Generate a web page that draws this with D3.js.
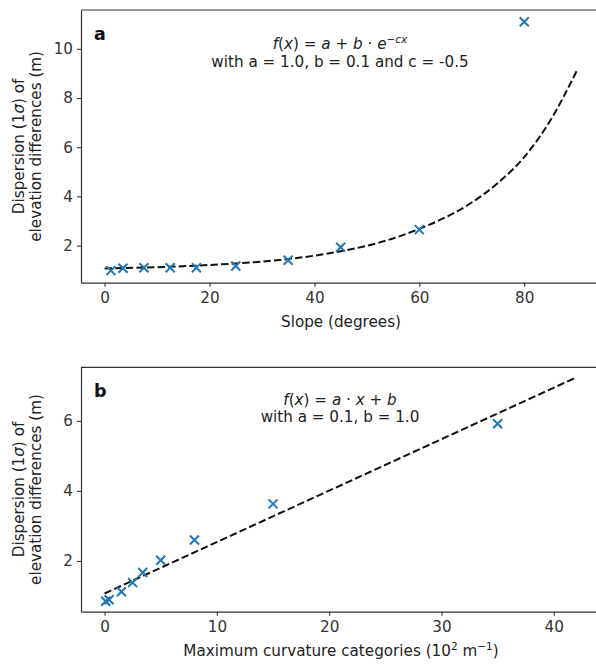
<!DOCTYPE html>
<html>
<head>
<meta charset="utf-8">
<script src="https://cdn.jsdelivr.net/npm/d3@7"></script>
<style>
  body { margin: 0; background: #fff; }
  svg { display: block; font-family: "DejaVu Sans", sans-serif; }
</style>
</head>
<body>
<svg id="chart" width="596" height="664"></svg>
<script>
// ---------- Panel a data ----------
const slopeX = [1.2, 3.5, 7.5, 12.5, 17.5, 25, 35, 45, 60, 80];
const slopeY = [0.98, 1.08, 1.1, 1.1, 1.1, 1.17, 1.4, 1.93, 2.65, 11.1];
const slopeFitX = [0, 10, 20, 30, 40, 45, 50, 55, 60, 65, 70, 75, 80, 85, 90];
const slopeFitY = [1.07, 1.12, 1.21, 1.35, 1.59, 1.77, 1.99, 2.29, 2.68, 3.15, 3.75, 4.55, 5.6, 7.1, 9.1];
const slopeXTicks = [0, 20, 40, 60, 80];
const slopeYTicks = [2, 4, 6, 8, 10];

// ---------- Panel b data ----------
const curvX = [0.1, 0.4, 1.5, 2.5, 3.4, 5, 8, 15, 35];
const curvY = [0.85, 0.89, 1.12, 1.38, 1.67, 2.02, 2.6, 3.63, 5.92];
const curvFitX = [0, 42];
const curvFitY = [1.07, 7.24];
const curvXTicks = [0, 10, 20, 30, 40];
const curvYTicks = [2, 4, 6];

const svg = d3.select("#chart");
const axisColor = "#333";
const textColor = "#222";
const blue = "#1f77b4";
const FS = "15.2px";

function panel(opts) {
  const { xDomain, xRange, yDomain, yRange, xTicks, yTicks, px, py, fx, fy,
          letter, formulaLines, xLabel } = opts;
  const x = d3.scaleLinear().domain(xDomain).range(xRange);
  const y = d3.scaleLinear().domain(yDomain).range(yRange);
  const g = svg.append("g");

  // spines (top and right; right lies beyond the picture edge)
  g.append("line").attr("x1", xRange[0]).attr("x2", xRange[1])
    .attr("y1", yRange[1]).attr("y2", yRange[1])
    .attr("stroke", axisColor).attr("stroke-width", 1.2);
  g.append("line").attr("x1", xRange[1]).attr("x2", xRange[1])
    .attr("y1", yRange[0]).attr("y2", yRange[1])
    .attr("stroke", axisColor).attr("stroke-width", 1.2);

  const xAxis = g.append("g").attr("transform", `translate(0,${yRange[0]})`)
    .call(d3.axisBottom(x).tickValues(xTicks).tickSize(4).tickSizeOuter(0).tickPadding(6).tickFormat(d3.format("d")));
  const yAxis = g.append("g").attr("transform", `translate(${xRange[0]},0)`)
    .call(d3.axisLeft(y).tickValues(yTicks).tickSize(4).tickSizeOuter(0).tickPadding(4).tickFormat(d3.format("d")));
  [xAxis, yAxis].forEach(a => {
    a.select(".domain").attr("stroke", axisColor).attr("stroke-width", 1.2);
    a.selectAll(".tick line").attr("stroke", axisColor).attr("stroke-width", 1.1);
    a.selectAll(".tick text").attr("fill", axisColor)
      .style("font-size", FS).style("font-family", "DejaVu Sans, sans-serif");
  });

  // fit line
  const line = d3.line().x((d, i) => x(fx[i])).y((d, i) => y(fy[i])).curve(d3.curveMonotoneX);
  g.append("path").datum(fx).attr("d", line)
    .attr("fill", "none").attr("stroke", "#111").attr("stroke-width", 2)
    .attr("stroke-dasharray", "7.4,3.2");

  // crosses
  const s = 4.5;
  const pts = g.append("g").selectAll("g").data(px).join("g")
    .attr("transform", (d, i) => `translate(${x(px[i])},${y(py[i])})`);
  pts.append("path").attr("d", `M${-s},${-s}L${s},${s}M${-s},${s}L${s},${-s}`)
    .attr("stroke", blue).attr("stroke-width", 2).attr("fill", "none");

  // panel letter
  g.append("text").attr("x", xRange[0] + 13).attr("y", yRange[1] + 29.5)
    .attr("font-weight", "bold").attr("font-size", "17.5px").attr("fill", "#111")
    .text(letter);

  // formula
  const cx = 340;
  const t1 = g.append("text").attr("x", cx).attr("y", yRange[1] + formulaLines.y1)
    .attr("text-anchor", "middle").attr("font-size", FS).attr("fill", textColor);
  formulaLines.parts.forEach(p => {
    const ts = t1.append("tspan").text(p.t);
    if (p.i) ts.attr("font-style", "italic");
    if (p.sup) ts.attr("baseline-shift", "super").attr("font-size", "10.5px").attr("font-style", "italic");
  });
  g.append("text").attr("x", cx).attr("y", yRange[1] + formulaLines.y2)
    .attr("text-anchor", "middle").attr("font-size", FS).attr("fill", textColor)
    .text(formulaLines.line2);

  // y label
  const ymid = (yRange[0] + yRange[1]) / 2;
  const yl = g.append("text").attr("transform", `translate(23.5,${ymid}) rotate(-90)`)
    .attr("text-anchor", "middle").attr("font-size", FS).attr("fill", textColor);
  yl.append("tspan").attr("x", 0).attr("dy", 0).text("Dispersion (1");
  yl.append("tspan").attr("font-style", "italic").text("σ");
  yl.append("tspan").text(") of");
  g.append("text").attr("transform", `translate(40.5,${ymid}) rotate(-90)`)
    .attr("text-anchor", "middle").attr("font-size", FS).attr("fill", textColor)
    .text("elevation differences (m)");

  // x label
  const xl = g.append("text").attr("x", 341).attr("y", yRange[0] + 44.5)
    .attr("text-anchor", "middle").attr("font-size", FS).attr("fill", textColor);
  xLabel(xl);
}

panel({
  xDomain: [-4.5, 94.5], xRange: [81, 600.3],
  yDomain: [0.49, 11.58], yRange: [282.7, 10],
  xTicks: slopeXTicks, yTicks: slopeYTicks,
  px: slopeX, py: slopeY, fx: slopeFitX, fy: slopeFitY,
  letter: "a",
  formulaLines: {
    y1: 38.5, y2: 57,
    parts: [{t: "f", i: true}, {t: "("}, {t: "x", i: true}, {t: ") = "}, {t: "a", i: true},
            {t: " + "}, {t: "b", i: true}, {t: " · "}, {t: "e", i: true}, {t: "−cx", sup: true}],
    line2: "with a = 1.0, b = 0.1 and c = -0.5"
  },
  xLabel: t => t.text("Slope (degrees)")
});

panel({
  xDomain: [-2.1, 44.1], xRange: [81, 599.8],
  yDomain: [0.55, 7.53], yRange: [611.7, 367.3],
  xTicks: curvXTicks, yTicks: curvYTicks,
  px: curvX, py: curvY, fx: curvFitX, fy: curvFitY,
  letter: "b",
  formulaLines: {
    y1: 38, y2: 55,
    parts: [{t: "f", i: true}, {t: "("}, {t: "x", i: true}, {t: ") = "}, {t: "a", i: true},
            {t: " · "}, {t: "x", i: true}, {t: " + "}, {t: "b", i: true}],
    line2: "with a = 0.1, b = 1.0"
  },
  xLabel: t => {
    t.append("tspan").text("Maximum curvature categories (10");
    t.append("tspan").attr("baseline-shift", "super").attr("font-size", "10.5px").text("2");
    t.append("tspan").text(" m");
    t.append("tspan").attr("baseline-shift", "super").attr("font-size", "10.5px").text("−1");
    t.append("tspan").text(")");
  }
});
</script>
</body>
</html>
